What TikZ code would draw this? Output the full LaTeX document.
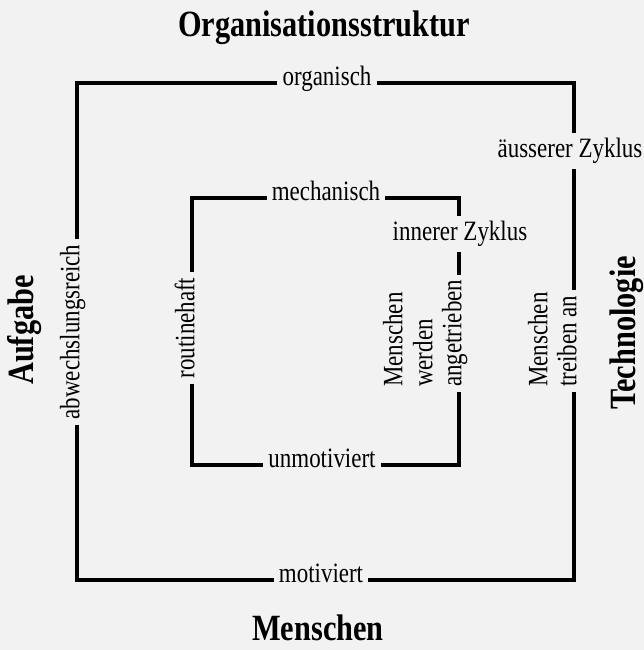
\documentclass[tikz,border=0pt]{standalone}
\usepackage{fontspec}
\setmainfont[FakeStretch=0.82]{Liberation Serif}
\begin{document}
\begin{tikzpicture}[x=1pt,y=-1pt,
  lab/.style={font=\fontsize{28}{30}\selectfont, inner sep=5pt},
  big/.style={font=\fontsize{37}{40}\selectfont\bfseries, inner sep=0pt},
  rlab/.style={lab, rotate=90},
  frame/.style={line width=3.2pt, line join=miter}]
\fill[black!5] (0,0) rectangle (644,650);
\useasboundingbox (0,0) rectangle (644,650);
% headings
\node[big, anchor=base] (title) at (324,37) {Organisationsstruktur};
\node[big, anchor=base] (people) at (318,640) {Menschen};
\node[big, rotate=90, anchor=center] (task) at (25,330) {Aufgabe};
\node[big, rotate=90, anchor=center] (tech) at (627,333) {Technologie};
% labels
\node[lab, anchor=mid] (org) at (327,83) {organisch};
\node[lab, anchor=mid] (mech) at (326,198) {mechanisch};
\node[lab, anchor=mid] (aus) at (570,155) {äusserer Zyklus};
\node[lab, anchor=mid] (inn) at (460,238) {innerer Zyklus};
\node[lab, anchor=mid] (unmot) at (322,465) {unmotiviert};
\node[lab, anchor=mid] (mot) at (321,580) {motiviert};
\node[rlab, anchor=mid] (abw) at (77,332) {abwechslungsreich};
\node[rlab, anchor=mid] (rout) at (192,328) {routinehaft};
\node[rlab, anchor=mid west] (m1) at (400,392) {Menschen};
\node[rlab, anchor=mid west] (m2) at (430,392) {werden};
\node[rlab, anchor=mid west] (m3) at (459,392) {angetrieben};
\node[rlab, anchor=mid west] (m4) at (545,392) {Menschen};
\node[rlab, anchor=mid west] (m5) at (574,392) {treiben an};
% outer cycle
\draw[frame] (org.mid west) -| (abw.mid east);
\draw[frame] (abw.mid west) |- (mot.mid west);
\draw[frame] (mot.mid east) -| (m5.mid west);
\draw[frame] (m5.mid east) -- (m5.mid east |- aus.south);
\draw[frame] (org.mid east) -| (m5.mid east |- aus.north);
% inner cycle
\draw[frame] (mech.mid west) -| (rout.mid east);
\draw[frame] (rout.mid west) |- (unmot.mid west);
\draw[frame] (unmot.mid east) -| (m3.mid west);
\draw[frame] (m3.mid east) -- (m3.mid east |- inn.south);
\draw[frame] (mech.mid east) -| (m3.mid east |- inn.north);
\end{tikzpicture}
\end{document}
